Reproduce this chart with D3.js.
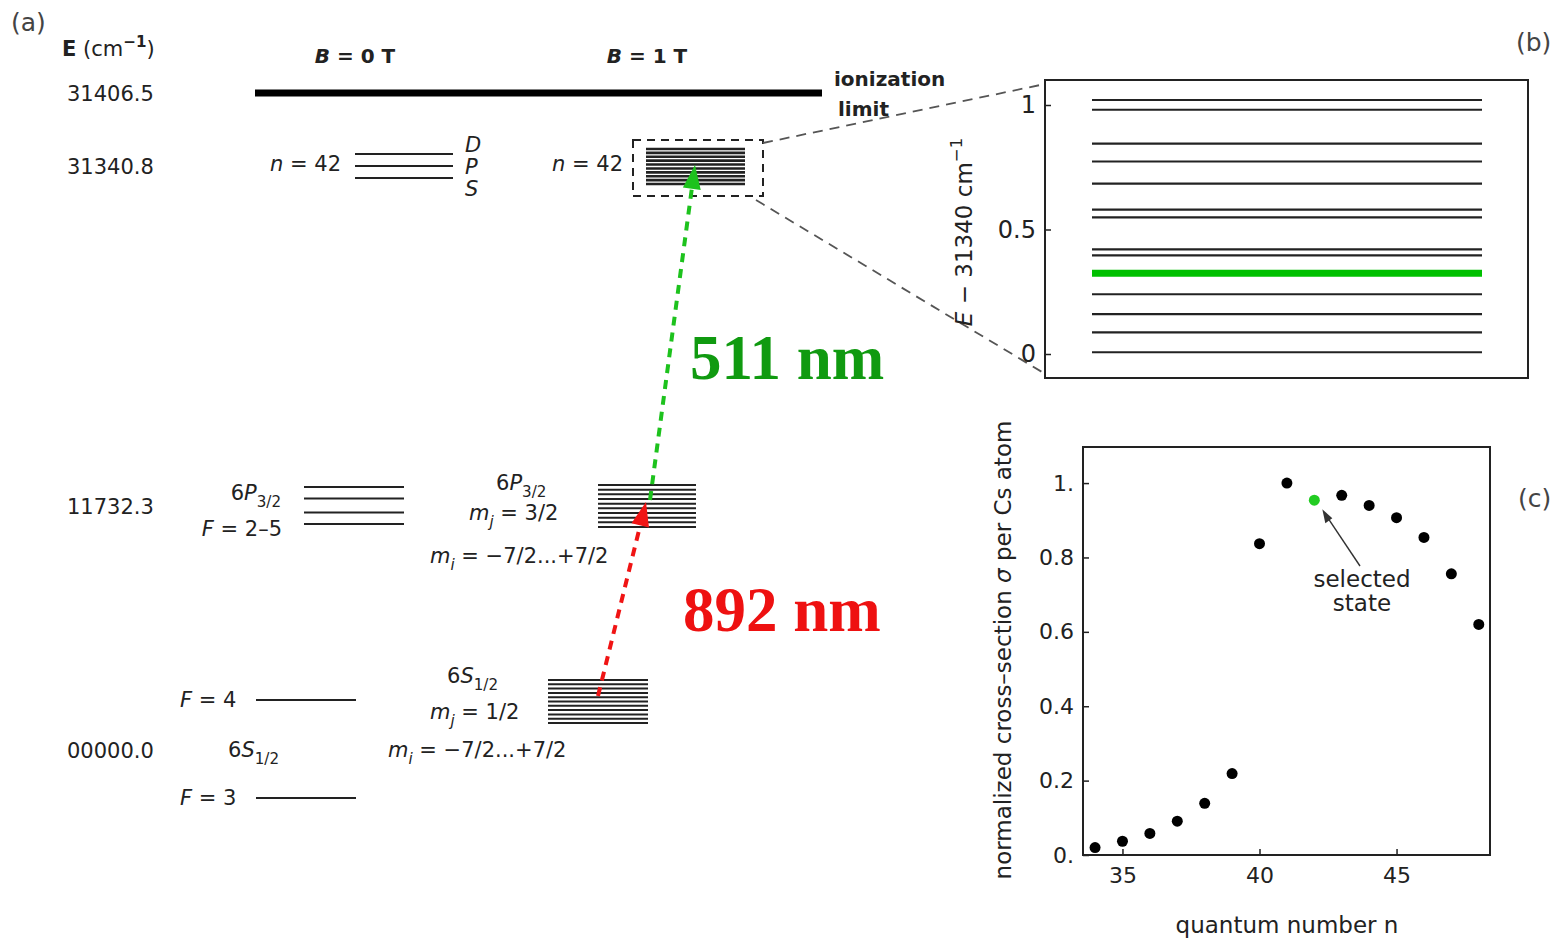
<!DOCTYPE html>
<html>
<head>
<meta charset="utf-8">
<script src="https://cdn.jsdelivr.net/npm/d3@7"></script>
<style>
  body { margin: 0; background: #fff; }
  text { font-family: "DejaVu Sans", "Liberation Sans", Arial, sans-serif; fill: #222; }
</style>
</head>
<body>
<svg id="fig" width="1564" height="942"></svg>
<script>
// ------------------------------------------------
// data
// ------------------------------------------------
var energyLabels = ["31406.5", "31340.8", "11732.3", "00000.0"];
var rydbergB0 = ["S", "P", "D"];                       // n = 42 at B = 0
var rydbergB1 = [0, 1, 2, 3, 4, 5, 6, 7, 8, 9];        // Zeeman sublevels drawn in the block
var p32Hyperfine = [0, 0.31, 0.69, 1.0];               // F = 2..5 (relative, as drawn)
var p32Zeeman = [0, 1, 2, 3, 4, 5, 6, 7, 8, 9];
var s12Zeeman = [0, 1, 2, 3, 4, 5, 6, 7, 8, 9, 10];
var s12Hyperfine = ["F = 3", "F = 4"];

// panel (b): E - 31340 cm^-1
var zoomLevels = [1.02, 0.981, 0.845, 0.773, 0.684, 0.58, 0.549, 0.42, 0.396, 0.324, 0.24, 0.16, 0.087, 0.007];
var selectedLevel = 0.324;
var zoomTicks = [0, 0.5, 1];

// panel (c): cross-section vs n
var quantumN = [34, 35, 36, 37, 38, 39, 40, 41, 42, 43, 44, 45, 46, 47, 48];
var crossSection = [0.020, 0.037, 0.058, 0.091, 0.139, 0.219, 0.837, 1.0, 0.954, 0.967, 0.940, 0.907, 0.854, 0.756, 0.620];
var selectedN = 42;
var crossXTicks = [35, 40, 45];
var crossYTicks = [0, 0.2, 0.4, 0.6, 0.8, 1.0];

var svg = d3.select("#fig");

// text with italic / sub / sup pieces ; style = space separated flags
function rich(sel, x, y, parts, anchor, size) {
  var t = sel.append("text").attr("x", x).attr("y", y)
    .attr("text-anchor", anchor || "start").style("font-size", size + "px");
  var shift = 0;
  parts.forEach(function(p) {
    var st = (p[1] || "").split(" ");
    var ts = t.append("tspan").text(p[0]);
    var target = st.indexOf("sub") >= 0 ? size * 0.32 : st.indexOf("sup") >= 0 ? -size * 0.42 : 0;
    ts.attr("dy", target - shift);
    shift = target;
    if (target !== 0) ts.style("font-size", (size * 0.72) + "px");
    if (st.indexOf("it") >= 0) ts.style("font-style", "italic");
    if (st.indexOf("bold") >= 0) ts.style("font-weight", "bold");
  });
  return t;
}

// ------------------------------------------------
// panel (a): level scheme
// ------------------------------------------------
var a = svg.append("g");
var yRow = d3.scaleOrdinal().domain(energyLabels).range([93, 166, 506, 750]);

a.append("text").attr("x", 11).attr("y", 31).style("font-size", "25px").style("fill", "#444").text("(a)");
rich(a, 62, 56, [["E", "bold"], [" (cm"], ["\u22121", "sup bold"], [")"]], "start", 21);

a.selectAll("text.elab").data(energyLabels).enter().append("text")
  .attr("class", "elab").attr("x", 67).attr("y", function(d) { return yRow(d) + 8; })
  .style("font-size", "21px").text(function(d) { return d; });

rich(a, 355, 63, [["B", "it bold"], [" = 0 T", "bold"]], "middle", 20);
rich(a, 647, 63, [["B", "it bold"], [" = 1 T", "bold"]], "middle", 20);

// ionization limit
a.append("line").attr("x1", 255).attr("x2", 822)
  .attr("y1", yRow("31406.5")).attr("y2", yRow("31406.5"))
  .attr("stroke", "#000").attr("stroke-width", 7);
a.append("text").attr("x", 834).attr("y", 86).style("font-size", "20px").style("font-weight", "bold").text("ionization");
a.append("text").attr("x", 838).attr("y", 116).style("font-size", "20px").style("font-weight", "bold").text("limit");

function levelLines(sel, data, yScale, x1, x2, sw) {
  sel.append("g").selectAll("line").data(data).enter().append("line")
    .attr("x1", x1).attr("x2", x2)
    .attr("y1", function(d, i) { return yScale(d, i); })
    .attr("y2", function(d, i) { return yScale(d, i); })
    .attr("stroke", "#222").attr("stroke-width", sw);
}

// n = 42, B = 0
var yN = yRow("31340.8");
var yS = d3.scalePoint().domain(rydbergB0).range([yN + 12, yN - 12]);
levelLines(a, rydbergB0, function(d) { return yS(d); }, 355, 453, 2);
a.selectAll("text.spd").data(rydbergB0).enter().append("text")
  .attr("x", 465).attr("y", function(d, i) { return yN + 8 + (1 - i) * 22; })
  .style("font-size", "21px").style("font-style", "italic").text(function(d) { return d; });
rich(a, 341, 171, [["n", "it"], [" = 42"]], "end", 21);

// n = 42, B = 1
var yZ1 = d3.scaleLinear().domain([0, 9]).range([184, 149]);
levelLines(a, rydbergB1, function(d) { return yZ1(d); }, 646, 745, 2.6);
rich(a, 623, 171, [["n", "it"], [" = 42"]], "end", 21);
a.append("rect").attr("x", 633).attr("y", 140).attr("width", 130).attr("height", 56)
  .attr("fill", "none").attr("stroke", "#222").attr("stroke-width", 2).attr("stroke-dasharray", "8,6");

// zoom connectors
a.append("line").attr("x1", 763).attr("y1", 143).attr("x2", 1045).attr("y2", 84)
  .attr("stroke", "#555").attr("stroke-width", 1.8).attr("stroke-dasharray", "10,7");
a.append("line").attr("x1", 756).attr("y1", 200).attr("x2", 1042).attr("y2", 372)
  .attr("stroke", "#555").attr("stroke-width", 1.8).attr("stroke-dasharray", "10,7");

// 6P3/2, B = 0
var yP = d3.scaleLinear().domain([0, 1]).range([524, 487]);
levelLines(a, p32Hyperfine, function(d) { return yP(d); }, 304, 404, 2);
rich(a, 281, 500, [["6"], ["P", "it"], ["3/2", "sub"]], "end", 21);
rich(a, 282, 536, [["F", "it"], [" = 2\u20135"]], "end", 21);

// 6P3/2, B = 1
var yPZ = d3.scaleLinear().domain([0, 9]).range([527, 485]);
levelLines(a, p32Zeeman, function(d) { return yPZ(d); }, 598, 696, 2);
rich(a, 496, 490, [["6"], ["P", "it"], ["3/2", "sub"]], "start", 21);
rich(a, 469, 520, [["m", "it"], ["j", "it sub"], [" = 3/2"]], "start", 21);
rich(a, 430, 563, [["m", "it"], ["i", "it sub"], [" = \u22127/2...+7/2"]], "start", 21);

// 6S1/2, B = 0
var yG = yRow("00000.0");
var yHF = d3.scalePoint().domain(s12Hyperfine).range([yG + 48, yG - 50]);
levelLines(a, s12Hyperfine, function(d) { return yHF(d); }, 256, 356, 2);
s12Hyperfine.forEach(function(d) {
  rich(a, 180, yHF(d) + 7, [["F", "it"], [d.slice(1)]], "start", 21);
});
rich(a, 228, 757, [["6"], ["S", "it"], ["1/2", "sub"]], "start", 21);

// 6S1/2, B = 1
var ySZ = d3.scaleLinear().domain([0, 10]).range([723, 680]);
levelLines(a, s12Zeeman, function(d) { return ySZ(d); }, 548, 648, 2);
rich(a, 447, 683, [["6"], ["S", "it"], ["1/2", "sub"]], "start", 21);
rich(a, 430, 719, [["m", "it"], ["j", "it sub"], [" = 1/2"]], "start", 21);
rich(a, 388, 757, [["m", "it"], ["i", "it sub"], [" = \u22127/2...+7/2"]], "start", 21);

// laser arrows
function dashedArrow(x1, y1, x2, y2, color) {
  var ang = Math.atan2(y2 - y1, x2 - x1);
  var hl = 24, hw = 9;
  var bx = x2 - hl * Math.cos(ang), by = y2 - hl * Math.sin(ang);
  a.append("line").attr("x1", x1).attr("y1", y1).attr("x2", bx).attr("y2", by)
    .attr("stroke", color).attr("stroke-width", 4).attr("stroke-dasharray", "9,7");
  var px = -Math.sin(ang) * hw, py = Math.cos(ang) * hw;
  a.append("path")
    .attr("d", "M" + x2 + "," + y2 + "L" + (bx + px) + "," + (by + py) + "L" + (bx - px) + "," + (by - py) + "Z")
    .attr("fill", color);
}
dashedArrow(650, 500, 695, 165, "#1dc21d");
dashedArrow(598, 696, 646, 502, "#f01414");

a.append("text").attr("x", 690).attr("y", 379)
  .style("font-family", "'Liberation Serif', 'Times New Roman', serif").style("font-weight", "bold")
  .style("font-size", "63px").style("fill", "#109a10").text("511 nm");
a.append("text").attr("x", 683).attr("y", 631)
  .style("font-family", "'Liberation Serif', 'Times New Roman', serif").style("font-weight", "bold")
  .style("font-size", "63px").style("fill", "#ee1111").text("892 nm");

// ------------------------------------------------
// panel (b): zoom of the n = 42 Zeeman manifold
// ------------------------------------------------
var b = svg.append("g");
var bx0 = 1045, bx1 = 1528, by0 = 80, by1 = 378;
var yB = d3.scaleLinear().domain([0, 1]).range([354, 105]);

b.append("text").attr("x", 1516).attr("y", 51).style("font-size", "25px").style("fill", "#444").text("(b)");
b.selectAll("line.lev").data(zoomLevels).enter().append("line")
  .attr("x1", 1092).attr("x2", 1482)
  .attr("y1", function(d) { return yB(d); }).attr("y2", function(d) { return yB(d); })
  .attr("stroke", function(d) { return d === selectedLevel ? "#00c000" : "#222"; })
  .attr("stroke-width", function(d) { return d === selectedLevel ? 7 : 2.2; });

var axB = b.append("g").attr("transform", "translate(" + bx0 + ",0)")
  .call(d3.axisLeft(yB).tickValues(zoomTicks).tickSize(-6).tickPadding(9)
    .tickFormat(function(d) { return d === 0.5 ? "0.5" : String(d); }));
axB.select(".domain").remove();
axB.selectAll("text").style("font-size", "24px").style("font-family", "'DejaVu Sans', Arial, sans-serif").attr("fill", "#222");
axB.selectAll("line").attr("stroke", "#222").attr("stroke-width", 1.5);

b.append("rect").attr("x", bx0).attr("y", by0).attr("width", bx1 - bx0).attr("height", by1 - by0)
  .attr("fill", "none").attr("stroke", "#222").attr("stroke-width", 2);
rich(b, 0, 0, [["E", "it"], [" \u2212 31340 cm"], ["\u22121", "sup"]], "middle", 23)
  .attr("transform", "translate(972,232) rotate(-90)");

// ------------------------------------------------
// panel (c): cross-section
// ------------------------------------------------
var c = svg.append("g");
var cx0 = 1083, cx1 = 1490, cy0 = 447, cy1 = 855;
var xC = d3.scaleLinear().domain([33.56, 48.41]).range([cx0, cx1]);
var yC = d3.scaleLinear().domain([0, 1.097]).range([cy1, cy0]);

c.append("text").attr("x", 1518).attr("y", 507).style("font-size", "25px").style("fill", "#444").text("(c)");

var axCx = c.append("g").attr("transform", "translate(0," + cy1 + ")")
  .call(d3.axisBottom(xC).tickValues(crossXTicks).tickSize(-6).tickPadding(12));
var axCy = c.append("g").attr("transform", "translate(" + cx0 + ",0)")
  .call(d3.axisLeft(yC).tickValues(crossYTicks).tickSize(-6).tickPadding(9)
    .tickFormat(function(d) { return d === 0 ? "0." : d === 1 ? "1." : d3.format(".1f")(d); }));
[axCx, axCy].forEach(function(ax) {
  ax.select(".domain").remove();
  ax.selectAll("text").style("font-size", "22px").style("font-family", "'DejaVu Sans', Arial, sans-serif").attr("fill", "#222");
  ax.selectAll("line").attr("stroke", "#222").attr("stroke-width", 1.5);
});
c.append("rect").attr("x", cx0).attr("y", cy0).attr("width", cx1 - cx0).attr("height", cy1 - cy0)
  .attr("fill", "none").attr("stroke", "#222").attr("stroke-width", 2);

c.selectAll("circle").data(quantumN).enter().append("circle")
  .attr("cx", function(d) { return xC(d); })
  .attr("cy", function(d, i) { return yC(crossSection[i]); })
  .attr("r", 5.5)
  .attr("fill", function(d) { return d === selectedN ? "#22cc22" : "#000"; });

// annotation
var selIdx = quantumN.indexOf(selectedN);
var ax2 = xC(selectedN) + 8, ay2 = yC(crossSection[selIdx]) + 9;
c.append("line").attr("x1", 1360).attr("y1", 566).attr("x2", ax2 + 3).attr("y2", ay2 + 5)
  .attr("stroke", "#333").attr("stroke-width", 1.4);
c.append("path").attr("d", "M" + ax2 + "," + ay2 + "l3,14l7,-5z").attr("fill", "#333");
c.append("text").attr("x", 1362).attr("y", 587).attr("text-anchor", "middle").style("font-size", "23px").text("selected");
c.append("text").attr("x", 1362).attr("y", 611).attr("text-anchor", "middle").style("font-size", "23px").text("state");

c.append("text").attr("x", 1287).attr("y", 933).attr("text-anchor", "middle").style("font-size", "23px").text("quantum number n");
rich(c, 0, 0, [["normalized cross\u2013section "], ["\u03c3", "it"], [" per Cs atom"]], "middle", 23)
  .attr("transform", "translate(1011,650) rotate(-90)");
</script>
</body>
</html>
